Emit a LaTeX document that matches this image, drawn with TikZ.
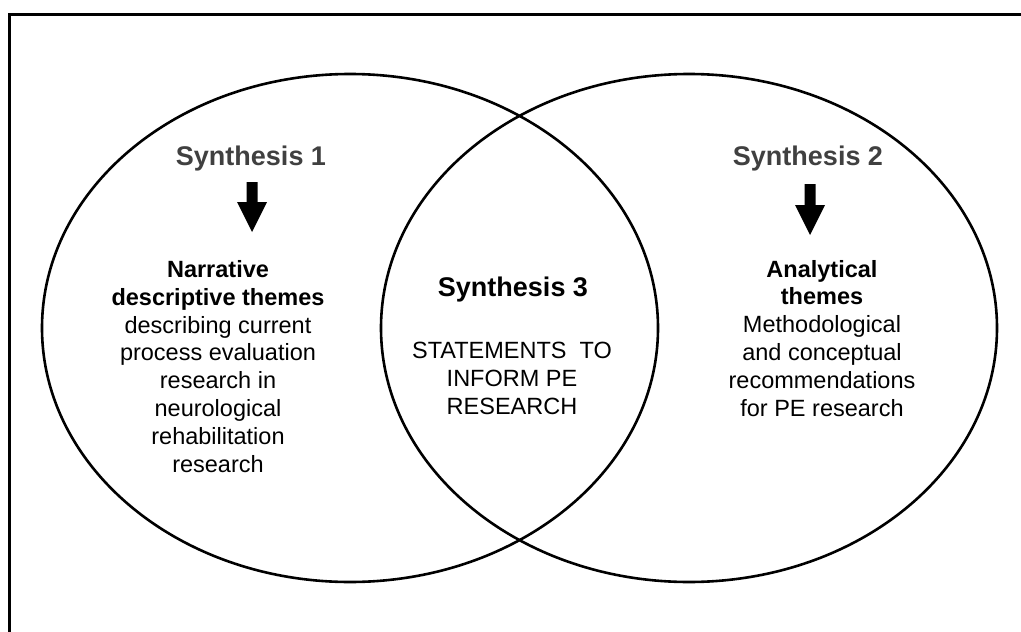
\documentclass[tikz,border=0pt]{standalone}
\usepackage{fontspec}
\setmainfont{Liberation Sans}
\usetikzlibrary{shapes.geometric}
\definecolor{titlegray}{RGB}{64,64,64}
\begin{document}
\begin{tikzpicture}[x=1pt,y=-1pt,
  ring/.style={ellipse, draw=black, line width=2.6pt, inner sep=0pt, minimum width=616pt, minimum height=508pt},
  frameline/.style={line width=2.4pt, draw=black},
  title/.style={font=\fontsize{27}{32}\selectfont\bfseries, text=titlegray, inner sep=0pt, anchor=base},
  ctitle/.style={font=\fontsize{27}{32}\selectfont\bfseries, text=black, inner sep=0pt, anchor=base},
  body/.style={font=\fontsize{23.5}{27.8}\selectfont, align=center, inner sep=0pt, anchor=base},
  blockarrow/.style={fill=black}]
\useasboundingbox (0,0) rectangle (1021,632);
% frame (top and left edges)
\coordinate (fr) at (1021,14.5);
\coordinate (fc) at (9.3,14.5);
\coordinate (fb) at (9.3,632);
\draw[frameline] (fr) -- (fc) -- (fb);
% circles
\node[ring] (left) at (350,328) {};
\node[ring] (right) at (689,328) {};
% titles
\node[title] (s1) at (251,165) {Synthesis 1};
\node[title] (s2) at (808,165) {Synthesis 2};
\node[ctitle] (s3) at (513,296) {Synthesis 3};
% block arrows
\coordinate (a1) at (252,182);
\coordinate (a2) at (810,184);
\fill[blockarrow] (a1) ++(-5.5,0) -- ++(11,0) -- ++(0,20) -- ++(9.5,0) -- ++(-15,30) -- ++(-15,-30) -- ++(9.5,0) -- cycle;
\fill[blockarrow] (a2) ++(-5.5,0) -- ++(11,0) -- ++(0,21) -- ++(9.5,0) -- ++(-15,30) -- ++(-15,-30) -- ++(9.5,0) -- cycle;
% texts (anchored at the baseline of their last line)
\node[body] (t1) at (218,472) {\textbf{Narrative}\\\textbf{descriptive themes}\\describing current\\process evaluation\\research in\\neurological\\rehabilitation\\research};
\node[body] (t3) at (512,414) {STATEMENTS\ \ TO\\INFORM PE\\RESEARCH};
\node[body] (t2) at (822,416) {\textbf{Analytical}\\\textbf{themes}\\Methodological\\and conceptual\\recommendations\\for PE research};
\end{tikzpicture}
\end{document}
